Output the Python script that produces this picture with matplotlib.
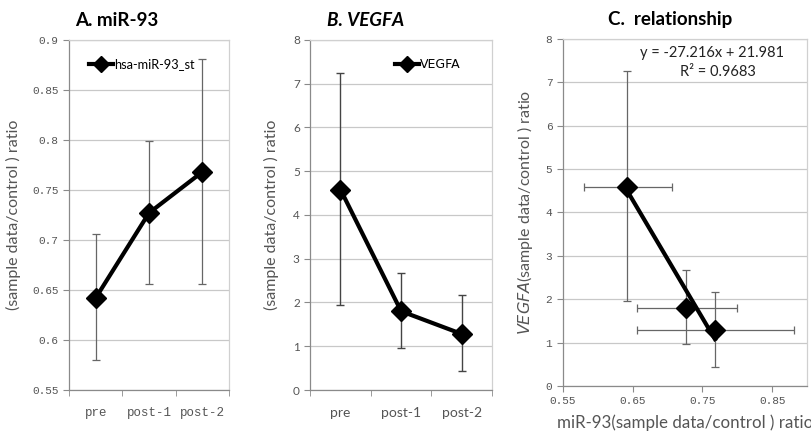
import matplotlib
matplotlib.use("Agg")
import matplotlib.pyplot as plt
import numpy as np

# ---------------------------------------------------------------
# data
# ---------------------------------------------------------------

categories = ["pre", "post-1", "post-2"]

mir93_mean = [0.642, 0.727, 0.768]
mir93_low = [0.580, 0.656, 0.656]
mir93_high = [0.706, 0.799, 0.881]

vegfa_mean = [4.58, 1.80, 1.28]
vegfa_low = [1.95, 0.97, 0.43]
vegfa_high = [7.25, 2.67, 2.17]

fit_slope, fit_icpt = -27.216, 21.981
fit_r2 = 0.9683

# ---------------------------------------------------------------
# style
# ---------------------------------------------------------------

plt.rcParams["font.family"] = ["Lato", "DejaVu Sans"]
mono = "Liberation Mono"
gray_txt = "#555555"
grid_col = "#c8c8c8"
err_col = "#666666"
title_font = dict(fontsize=13.5, fontweight="bold")

def style_axes(axes):
    axes.set_axisbelow(True)
    axes.yaxis.grid(True, color=grid_col, linewidth=0.9)
    for side in ["top", "right"]:
        axes.spines[side].set_color("#d0d0d0")
        axes.spines[side].set_linewidth(0.9)
    for side in ["left", "bottom"]:
        axes.spines[side].set_color("#8a8a8a")
        axes.spines[side].set_linewidth(0.9)
    axes.tick_params(colors="#8a8a8a", labelcolor=gray_txt, length=4, width=0.8)

def err_pair(mean, low, high):
    mean = np.array(mean)
    return [mean - np.array(low), np.array(high) - mean]

fig = plt.figure(figsize=(8.12, 4.36), dpi=100)
xpos = np.arange(len(categories))
leg_opts = dict(loc="center left", frameon=False, handlelength=1.9,
                handletextpad=0.05, borderpad=0.2, markerscale=0.8)

# ---------------------------------------------------------------
# A. miR-93
# ---------------------------------------------------------------

axA = fig.add_axes([0.085, 0.1055, 0.197, 0.803])
style_axes(axA)
axA.errorbar(xpos, mir93_mean, yerr=err_pair(mir93_mean, mir93_low, mir93_high),
             fmt="none", ecolor=err_col, elinewidth=0.9, capsize=3, capthick=0.9)
axA.plot(xpos, mir93_mean, color="black", linewidth=3, marker="D", markersize=10,
         label="hsa-miR-93_st")
axA.set_xlim(-0.5, 2.5)
axA.set_ylim(0.55, 0.9)
yt = np.arange(0.55, 0.901, 0.05)
axA.set_yticks(yt)
axA.set_yticklabels(["%g" % round(v, 2) for v in yt], fontfamily=mono, fontsize=8)
axA.set_xticks(xpos)
axA.set_xticklabels(categories, fontfamily=mono, fontsize=9)
axA.set_xticks([-0.5, 0.5, 1.5, 2.5], minor=True)
axA.tick_params(axis="x", which="major", length=0, pad=12)
axA.tick_params(axis="x", which="minor", length=4, colors="#8a8a8a")
axA.set_ylabel("(sample data/control ) ratio", fontsize=11.5, color=gray_txt, labelpad=8)
axA.set_title("A. miR-93", loc="left", x=0.04, pad=10, **title_font)
axA.legend(bbox_to_anchor=(0.07, 0.93), fontsize=9.2, **leg_opts)

# ---------------------------------------------------------------
# B. VEGFA
# ---------------------------------------------------------------

axB = fig.add_axes([0.382, 0.1055, 0.224, 0.803])
style_axes(axB)
axB.errorbar(xpos, vegfa_mean, yerr=err_pair(vegfa_mean, vegfa_low, vegfa_high),
             fmt="none", ecolor="#444444", elinewidth=1.0, capsize=3, capthick=1.0)
axB.plot(xpos, vegfa_mean, color="black", linewidth=3, marker="D", markersize=10,
         label="VEGFA")
axB.set_xlim(-0.5, 2.5)
axB.set_ylim(0, 8)
axB.set_yticks(range(0, 9))
axB.tick_params(axis="y", labelsize=8.5)
axB.set_xticks(xpos)
axB.set_xticklabels(categories, fontsize=10)
axB.set_xticks([-0.5, 0.5, 1.5, 2.5], minor=True)
axB.tick_params(axis="x", which="major", length=0, pad=12)
axB.tick_params(axis="x", which="minor", length=4, colors="#8a8a8a")
axB.set_ylabel("(sample data/control ) ratio", fontsize=11.5, color=gray_txt, labelpad=10)
axB.set_title("B. VEGFA", fontstyle="italic", loc="left", x=0.09, pad=10, **title_font)
axB.legend(bbox_to_anchor=(0.42, 0.93), prop={"family": "DejaVu Sans", "size": 9}, **leg_opts)

# ---------------------------------------------------------------
# C. relationship
# ---------------------------------------------------------------

axC = fig.add_axes([0.693, 0.1147, 0.301, 0.796])
style_axes(axC)
axC.errorbar(mir93_mean, vegfa_mean,
             xerr=err_pair(mir93_mean, mir93_low, mir93_high),
             yerr=err_pair(vegfa_mean, vegfa_low, vegfa_high),
             fmt="none", ecolor=err_col, elinewidth=0.9, capsize=3, capthick=0.9)
axC.plot(mir93_mean, vegfa_mean, linestyle="none", color="black", marker="D", markersize=10)
fx = np.array([min(mir93_mean), max(mir93_mean)])
axC.plot(fx, fit_slope * fx + fit_icpt, color="black", linewidth=3)
axC.set_xlim(0.55, 0.9)
axC.set_ylim(0, 8)
axC.set_yticks(range(0, 9))
axC.set_yticklabels([str(v) for v in range(0, 9)], fontfamily=mono, fontsize=8)
xt = [0.55, 0.65, 0.75, 0.85]
axC.set_xticks(xt)
axC.set_xticklabels(["%g" % v for v in xt], fontfamily=mono, fontsize=8)
axC.set_xlabel("miR-93(sample data/control ) ratio", fontsize=12.2, color=gray_txt, labelpad=6)
axC.set_ylabel(r"$\it{VEGFA}$(sample data/control ) ratio", fontsize=11.5, color=gray_txt,
               labelpad=8)
axC.set_title("C.  relationship", x=0.44, pad=10, **title_font)
axC.text(0.61, 0.96, "y = %.3fx + %.3f" % (fit_slope, fit_icpt), transform=axC.transAxes,
         ha="center", va="center", fontsize=10.5, color="#222222")
axC.text(0.635, 0.905, "R\u00b2 = %.4f" % fit_r2, transform=axC.transAxes,
         ha="center", va="center", fontsize=10.5, color="#222222")

plt.savefig("out.png", dpi=100)
